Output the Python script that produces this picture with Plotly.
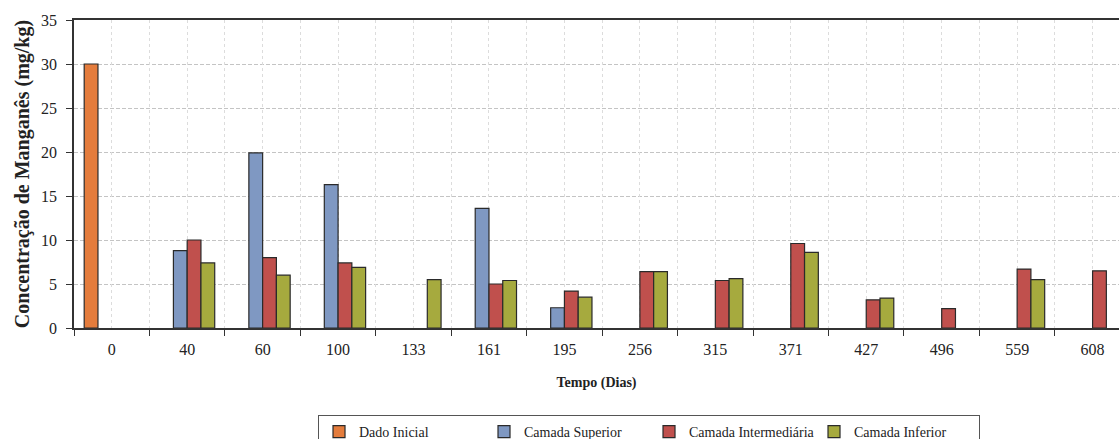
import plotly.graph_objects as go

# Dias de coleta (eixo de categorias)
dias = ["0", "40", "60", "100", "133", "161", "195", "256", "315", "371", "427", "496", "559", "608"]

# Concentração de manganês (mg/kg) por camada
dado_inicial = [30.0, None, None, None, None, None, None, None, None, None, None, None, None, None]
camada_superior = [None, 8.8, 19.9, 16.3, None, 13.6, 2.3, None, None, None, None, None, None, None]
camada_intermediaria = [None, 10.0, 8.0, 7.4, None, 5.0, 4.2, 6.4, 5.4, 9.6, 3.2, 2.2, 6.7, 6.5]
camada_inferior = [None, 7.4, 6.0, 6.9, 5.5, 5.4, 3.5, 6.4, 5.6, 8.6, 3.4, None, 5.5, None]

series = [
    ("Dado Inicial", dado_inicial, "#E47C3C"),
    ("Camada Superior", camada_superior, "#7F98C2"),
    ("Camada Intermediária", camada_intermediaria, "#C0504D"),
    ("Camada Inferior", camada_inferior, "#A6AA3E"),
]

SERIF = "Liberation Serif"
x_range = [-0.5, 13.35]

fig = go.Figure()
for name, vals, color in series:
    fig.add_trace(go.Bar(
        name=name, x=dias, y=vals,
        marker=dict(color=color, line=dict(color="#2a2a2a", width=1.2)),
    ))

# helper trace for the half-category vertical grid
fig.add_trace(go.Scatter(x=[], y=[], xaxis="x2", showlegend=False, hoverinfo="skip"))

fig.update_layout(
    width=1119, height=439,
    margin=dict(l=74, r=0, t=20, b=111, autoexpand=False),
    paper_bgcolor="white", plot_bgcolor="white",
    barmode="group", bargap=0.27, bargroupgap=0,
    font=dict(family=SERIF, color="#222", size=16),
    xaxis=dict(
        type="category", range=x_range,
        tickson="boundaries", ticks="outside", ticklen=6, tickcolor="#333",
        showline=True, linecolor="#333", linewidth=1.5, mirror=True,
        showgrid=False, tickfont=dict(family=SERIF, size=16), ticklabelstandoff=6,
        title=dict(text="<b>Tempo (Dias)</b>", font=dict(family=SERIF, size=14), standoff=20),
    ),
    xaxis2=dict(
        overlaying="x", anchor="y", range=x_range, tick0=-0.5, dtick=0.5,
        showgrid=True, gridcolor="#dcdcdc", griddash="dot", gridwidth=1,
        showticklabels=False, ticks="", showline=False, zeroline=False,
    ),
    yaxis=dict(
        range=[0, 35], dtick=5, ticks="outside", ticklen=6, tickcolor="#333",
        showline=True, linecolor="#333", linewidth=1.5,
        showgrid=True, gridcolor="#c4c4c4", griddash="4px,2px", gridwidth=1,
        zeroline=False, tickfont=dict(family=SERIF, size=16), ticklabelstandoff=6,
        title=dict(text="<b>Concentração de Manganês (mg/kg)</b>", font=dict(family=SERIF, size=20), standoff=6),
    ),
    showlegend=True,
    legend=dict(
        orientation="h", x=0.2335, xanchor="left", y=-0.2825, yanchor="top",
        font=dict(size=14, family=SERIF), bordercolor="#555", borderwidth=1,
        bgcolor="white", traceorder="normal", itemwidth=30,
        entrywidth=120, entrywidthmode="pixels",
    ),
)

fig.write_html("out.html")
